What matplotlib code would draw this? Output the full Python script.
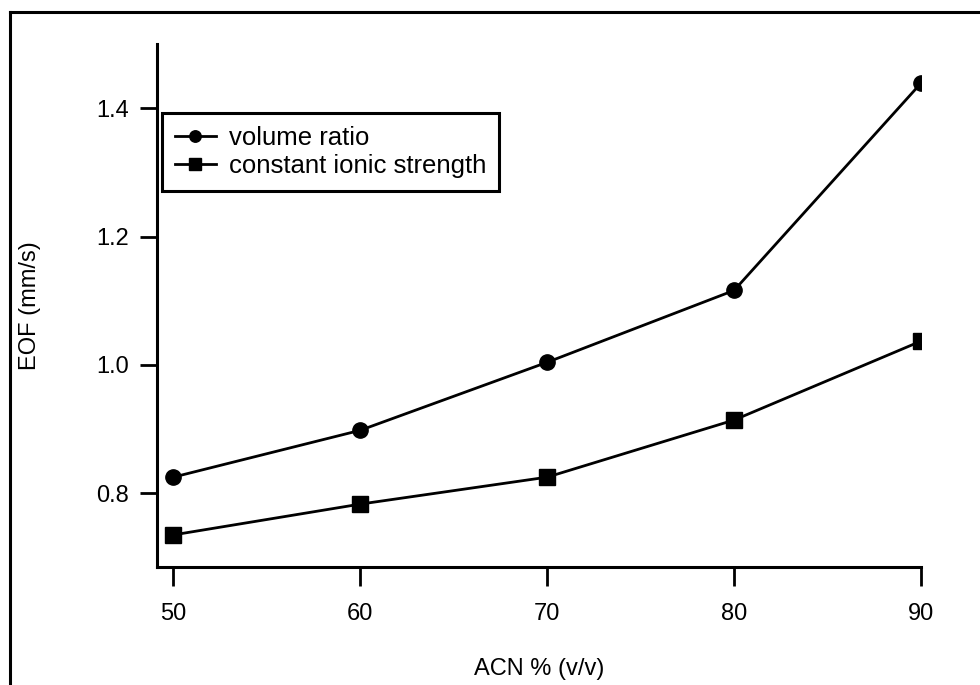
import matplotlib.pyplot as plt
from matplotlib.lines import Line2D

acn = [50, 60, 70, 80, 90]
volume_ratio = [0.825, 0.898, 1.004, 1.116, 1.439]
ionic_strength = [0.735, 0.783, 0.825, 0.914, 1.037]
y_ticks = [0.8, 1.0, 1.2, 1.4]

plt.rcParams['font.family'] = ['Liberation Sans', 'DejaVu Sans']

px = 1 / 100
fig = plt.figure(figsize=(980 * px, 685 * px), dpi=100)
ax = fig.add_axes([157 / 980, 1 - 567 / 685, (921 - 157) / 980, (567 - 44) / 685])

ax.plot(acn, volume_ratio, color='black', lw=2, marker='o', ms=11, label='volume ratio')
ax.plot(acn, ionic_strength, color='black', lw=2, marker='s', ms=12, label='constant ionic strength')

ax.set_xlim(49.13, 90)
ax.set_ylim(0.685, 1.50)
ax.set_xticks(acn)
ax.set_yticks(y_ticks)
ax.set_yticklabels([f'{v:.1f}' for v in y_ticks])

for s in ['top', 'right']:
    ax.spines[s].set_visible(False)
for s in ['left', 'bottom']:
    ax.spines[s].set_linewidth(2.2)
ax.tick_params(axis='x', direction='out', length=14, width=2, pad=12, labelsize=17)
ax.tick_params(axis='y', direction='out', length=12, width=2, pad=8, labelsize=17)

ax.set_xlabel('ACN % (v/v)', fontsize=17, labelpad=24)
ax.set_ylabel('EOF (mm/s)', fontsize=17, labelpad=40)

leg = ax.legend(loc='upper left', bbox_to_anchor=(162 / 980, 1 - 113 / 685),
                bbox_transform=fig.transFigure, borderaxespad=0, fontsize=18.5,
                frameon=True, fancybox=False, edgecolor='black', handlelength=1.6,
                handletextpad=0.5, markerscale=0.75, labelspacing=0.15, borderpad=0.5)
leg.get_frame().set_linewidth(2.2)
leg.get_frame().set_alpha(1)

# outer frame of the original figure (top and left edges)
fig.add_artist(Line2D([10 / 980, 1], [1 - 12 / 685, 1 - 12 / 685], color='black', lw=2.2, transform=fig.transFigure))
fig.add_artist(Line2D([10 / 980, 10 / 980], [0, 1 - 12 / 685], color='black', lw=2.2, transform=fig.transFigure))

fig.savefig('out.png', dpi=100)
